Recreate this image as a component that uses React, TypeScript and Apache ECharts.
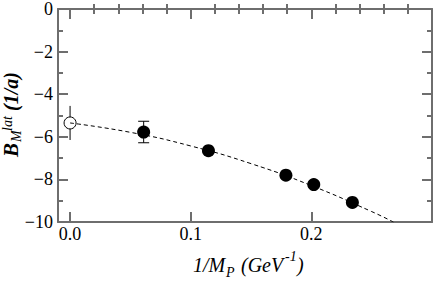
import React, { useEffect, useRef } from 'react';
import * as echarts from 'echarts';

const xMajorTicks = [0, 0.1, 0.2];
const xMinorTicks = [0.02, 0.04, 0.06, 0.08, 0.12, 0.14, 0.16, 0.18, 0.22, 0.24, 0.26, 0.28];
const filledX = [0.061, 0.1147, 0.1789, 0.202, 0.234];
const filledY = [-5.78, -6.65, -7.8, -8.24, -9.08];
const openX = [0];
const openY = [-5.35];
const errX = [0, 0.061];
const errLow = [-6.15, -6.28];
const errHigh = [-4.55, -5.27];
const errCap = [0, 1];
const fitX = [0, 0.05, 0.1, 0.15, 0.2, 0.25, 0.268];
const fitY = [-5.35, -5.79, -6.43, -7.26, -8.29, -9.51, -10.0];

const FONT = '"Liberation Serif", "DejaVu Serif", serif';
const FRAME = '#6e6e6e';

function txt(text: string, x: number, y: number, size: number, weight = 'normal') {
  return {
    type: 'text',
    x,
    y,
    style: {
      text,
      font: `italic ${weight} ${size}px ${FONT}`,
      fill: '#000',
      textAlign: 'left',
      align: 'left',
      textVerticalAlign: 'middle',
      verticalAlign: 'middle',
    },
  };
}

export default function App() {
  const ref = useRef<HTMLDivElement>(null);
  useEffect(() => {
    if (!ref.current) return;
    const chart = echarts.init(ref.current, null, { renderer: 'svg' });
    const xBase = {
      type: 'value',
      min: -0.01,
      max: 0.3,
      splitLine: { show: false },
      axisLine: { show: true, onZero: false, lineStyle: { color: FRAME, width: 2 } },
    };
    const majorTick = { show: true, inside: true, length: 10, lineStyle: { color: FRAME, width: 2 } };
    const minorTickX = { show: true, inside: true, length: 5, lineStyle: { color: FRAME, width: 2 } };
    const yBase = {
      type: 'value',
      min: -10,
      max: 0,
      interval: 2,
      splitLine: { show: false },
      axisLine: { show: true, onZero: false, lineStyle: { color: FRAME, width: 2 } },
      axisTick: { show: true, inside: true, length: 10, lineStyle: { color: FRAME, width: 2 } },
      minorTick: { show: true, splitNumber: 2, length: 5, lineStyle: { color: FRAME, width: 2 } },
      minorSplitLine: { show: false },
    };
    const option: any = {
      animation: false,
      backgroundColor: '#fff',
      grid: { left: 58, right: 4, top: 8, bottom: 61, containLabel: false },
      xAxis: [
        {
          ...xBase,
          position: 'bottom',
          axisTick: { ...majorTick, customValues: xMajorTicks },
          axisLabel: {
            show: true,
            customValues: xMajorTicks,
            formatter: (v: number) => v.toFixed(1),
            fontFamily: FONT,
            fontSize: 18,
            color: '#000',
            margin: 3,
          },
        },
        {
          ...xBase,
          position: 'bottom',
          axisLine: { show: false },
          axisTick: { ...minorTickX, customValues: xMinorTicks },
          axisLabel: { show: false },
        },
        {
          ...xBase,
          position: 'top',
          axisTick: { ...majorTick, customValues: xMajorTicks },
          axisLabel: { show: false },
        },
        {
          ...xBase,
          position: 'top',
          axisLine: { show: false },
          axisTick: { ...minorTickX, customValues: xMinorTicks },
          axisLabel: { show: false },
        },
      ],
      yAxis: [
        {
          ...yBase,
          position: 'left',
          axisLabel: {
            show: true,
            formatter: (v: number) => (v === 0 ? '0' : '\u2212' + Math.abs(v)),
            fontFamily: FONT,
            fontSize: 18,
            color: '#000',
            margin: 5,
          },
        },
        {
          ...yBase,
          position: 'right',
          axisLabel: { show: false },
        },
      ],
      graphic: [
        {
          type: 'group',
          x: 18,
          y: 157,
          rotation: Math.PI / 2,
          children: [
            txt('B', 0, -7, 21, 'bold'),
            txt('M', 15, -1.5, 14),
            txt('lat', 26, -11, 14),
            txt('(1/a)', 46, -7, 20, 'bold'),
          ],
        },
        {
          type: 'group',
          children: [
            txt('1/M', 193, 265, 20),
            txt('P', 226, 272, 14),
            txt('(GeV', 241, 265, 20),
            txt('-1', 285, 256, 14),
            txt(')', 297, 265, 20),
          ],
        },
      ],
      series: [
        {
          type: 'custom',
          xAxisIndex: 0,
          yAxisIndex: 0,
          encode: { x: 0, y: [1, 2] },
          data: errX.map((x, i) => [x, errLow[i], errHigh[i], errCap[i]]),
          renderItem: (params: any, api: any) => {
            const x = api.value(0);
            const p1 = api.coord([x, api.value(1)]);
            const p2 = api.coord([x, api.value(2)]);
            const st = { stroke: '#000', lineWidth: 1 };
            const children: any[] = [
              { type: 'line', shape: { x1: p1[0], y1: p1[1], x2: p2[0], y2: p2[1] }, style: st },
            ];
            if (api.value(3)) {
              children.push({ type: 'line', shape: { x1: p1[0] - 5.5, y1: p1[1], x2: p1[0] + 5.5, y2: p1[1] }, style: st });
              children.push({ type: 'line', shape: { x1: p2[0] - 5.5, y1: p2[1], x2: p2[0] + 5.5, y2: p2[1] }, style: st });
            }
            return { type: 'group', children };
          },
        },
        {
          type: 'line',
          xAxisIndex: 0,
          yAxisIndex: 0,
          data: fitX.map((x, i) => [x, fitY[i]]),
          smooth: true,
          showSymbol: false,
          symbol: 'none',
          lineStyle: { color: '#000', width: 1, type: [4, 3] },
        },
        {
          type: 'scatter',
          xAxisIndex: 0,
          yAxisIndex: 0,
          data: openX.map((x, i) => [x, openY[i]]),
          symbol: 'circle',
          symbolSize: 12,
          itemStyle: { color: '#fff', borderColor: '#000', borderWidth: 1, opacity: 1 },
        },
        {
          type: 'scatter',
          xAxisIndex: 0,
          yAxisIndex: 0,
          data: filledX.map((x, i) => [x, filledY[i]]),
          symbol: 'circle',
          symbolSize: 13,
          itemStyle: { color: '#000', opacity: 1 },
        },
      ],
    };
    chart.setOption(option);
    return () => chart.dispose();
  }, []);
  return (
    <div
      ref={ref}
      style={{ position: 'fixed', left: 0, top: 0, width: 436, height: 283, background: '#fff' }}
    />
  );
}
